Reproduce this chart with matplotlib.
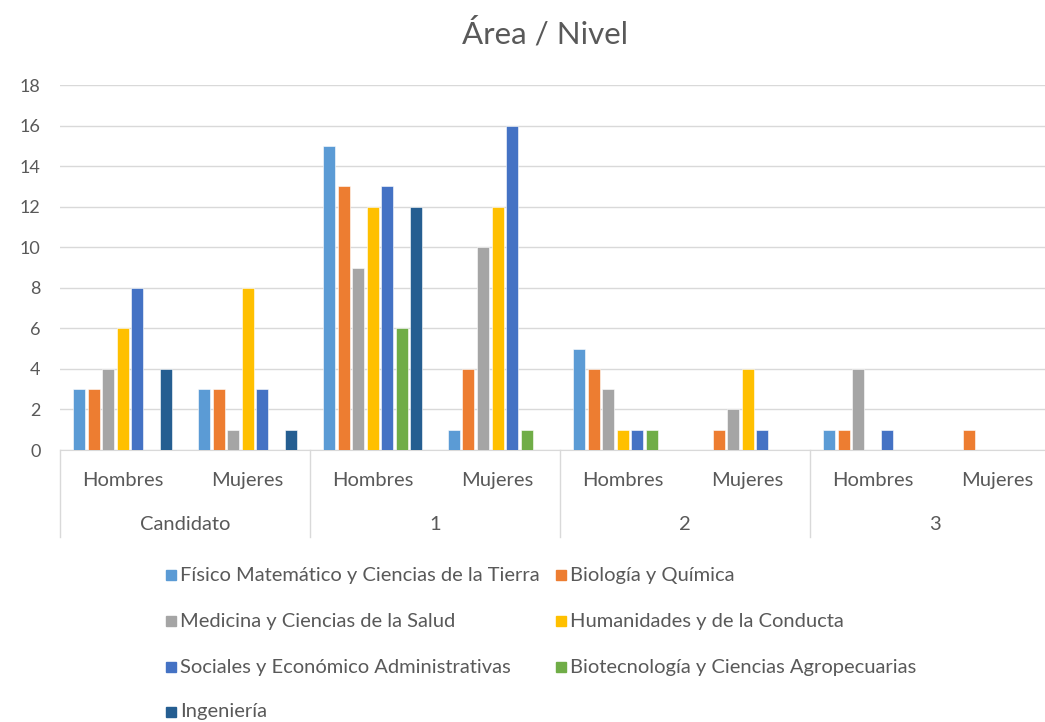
import matplotlib.pyplot as plt
import matplotlib.transforms as mtransforms
from matplotlib.patches import Rectangle
import numpy as np

plt.rcParams['font.family'] = ['Lato', 'DejaVu Sans']

niveles = ['Candidato', '1', '2', '3']
sexos = ['Hombres', 'Mujeres']
areas = ['Físico Matemático y Ciencias de la Tierra', 'Biología y Química',
         'Medicina y Ciencias de la Salud', 'Humanidades y de la Conducta',
         'Sociales y Económico Administrativas', 'Biotecnología y Ciencias Agropecuarias',
         'Ingeniería']
colores = ['#5B9BD5', '#ED7D31', '#A5A5A5', '#FFC000', '#4472C4', '#70AD47', '#255E91']

# values per area, order: Cand H, Cand M, 1 H, 1 M, 2 H, 2 M, 3 H, 3 M
fisico = [3, 3, 15, 1, 5, 0, 1, 0]
biologia = [3, 3, 13, 4, 4, 1, 1, 1]
medicina = [4, 1, 9, 10, 3, 2, 4, 0]
humanidades = [6, 8, 12, 12, 1, 4, 0, 0]
sociales = [8, 3, 13, 16, 1, 1, 1, 0]
biotec = [0, 0, 6, 1, 1, 0, 0, 0]
ingenieria = [4, 1, 12, 0, 0, 0, 0, 0]
series = [fisico, biologia, medicina, humanidades, sociales, biotec, ingenieria]

gris = '#595959'
fig = plt.figure(figsize=(10.45, 7.22), dpi=100)
W, H = 1045, 722
ax = fig.add_axes([60 / W, 1 - 450 / H, 1000 / W, 365 / H])

ncat = len(niveles) * len(sexos)
x = np.arange(ncat)
pitch = 0.116
width = 0.096
for i, (vals, c) in enumerate(zip(series, colores)):
    ax.bar(x + (i - 3) * pitch, vals, width, color=c, edgecolor='white',
           linewidth=0.4, zorder=3)

ax.set_xlim(-0.5, ncat - 0.5)
ax.set_ylim(0, 18)
ax.set_yticks(range(0, 19, 2))
ax.yaxis.grid(True, color='#d9d9d9', linewidth=1)
ax.set_axisbelow(True)
for s in ['left', 'right', 'top']:
    ax.spines[s].set_visible(False)
ax.spines['bottom'].set_color('#d9d9d9')
ax.tick_params(axis='y', length=0, pad=14, labelsize=13, labelcolor=gris)
ax.set_xticks(x)
ax.set_xticklabels(sexos * len(niveles))
ax.tick_params(axis='x', length=0, pad=16, labelsize=14.5, labelcolor=gris)

trans = mtransforms.blended_transform_factory(ax.transData, ax.transAxes)
for g, nivel in enumerate(niveles):
    ax.text(2 * g + 0.5, -74 / 365, nivel, transform=trans, ha='center',
            va='center', fontsize=14.5, color=gris)
    ax.plot([2 * g - 0.5, 2 * g - 0.5], [0, -87 / 365], transform=trans,
            color='#d9d9d9', linewidth=1, clip_on=False)

fig.text(545 / W, 1 - 33 / H, 'Área / Nivel', ha='center', va='center',
         fontsize=22.5, color=gris)

# legend, two columns filled row by row
col_x = [166, 556]
row_y = [575, 621, 667, 712]
for i, (name, c) in enumerate(zip(areas, colores)):
    cx = col_x[i % 2]
    cy = row_y[i // 2]
    fig.patches.append(Rectangle((cx / W, 1 - (cy + 5) / H), 10 / W, 10 / H,
                                 transform=fig.transFigure, color=c))
    fig.text((cx + 14) / W, 1 - cy / H, name, ha='left', va='center',
             fontsize=14.5, color=gris)

fig.savefig('out.png', dpi=100)
